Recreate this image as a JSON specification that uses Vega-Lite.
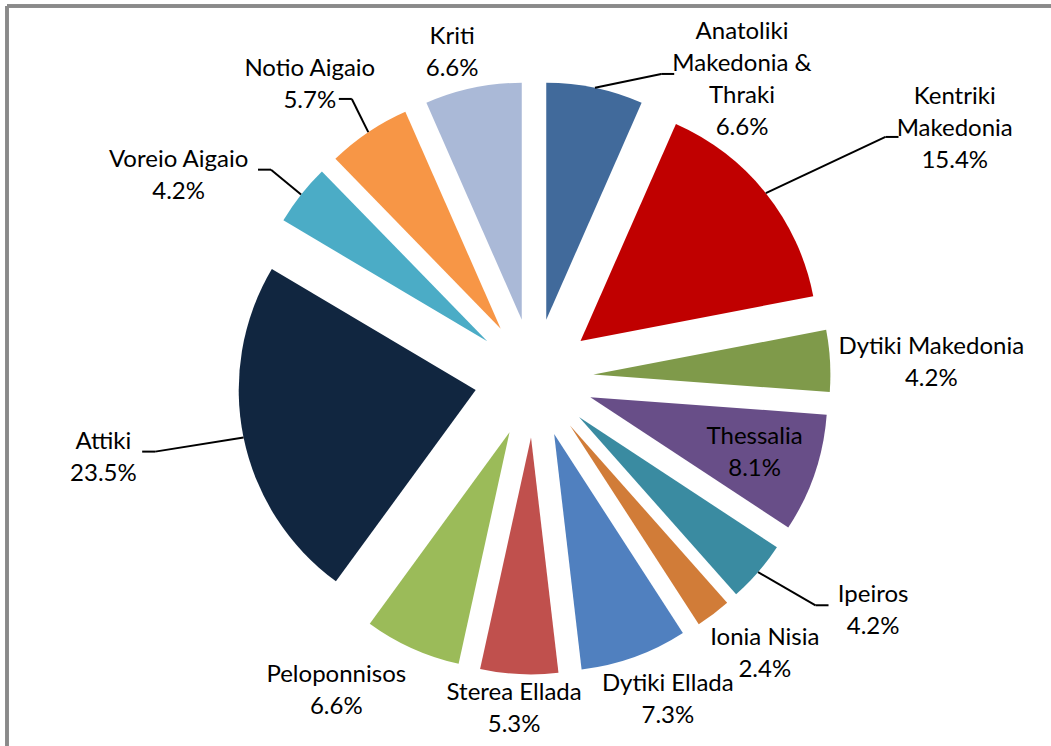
{
  "$schema": "https://vega.github.io/schema/vega-lite/v6.json",
  "width": 1044,
  "height": 740,
  "padding": {"left": 7, "top": 6, "right": 0, "bottom": 0},
  "autosize": {"type": "none"},
  "background": "white",
  "config": {"view": {"stroke": null}},
  "data": {
    "values": [
      {"region": "Anatoliki Makedonia & Thraki", "name": "Anatoliki\nMakedonia &\nThraki", "share": 6.6},
      {"region": "Kentriki Makedonia", "name": "Kentriki\nMakedonia", "share": 15.4},
      {"region": "Dytiki Makedonia", "name": "Dytiki Makedonia", "share": 4.2},
      {"region": "Thessalia", "name": "Thessalia", "share": 8.1},
      {"region": "Ipeiros", "name": "Ipeiros", "share": 4.2},
      {"region": "Ionia Nisia", "name": "Ionia Nisia", "share": 2.4},
      {"region": "Dytiki Ellada", "name": "Dytiki Ellada", "share": 7.3},
      {"region": "Sterea Ellada", "name": "Sterea Ellada", "share": 5.3},
      {"region": "Peloponnisos", "name": "Peloponnisos", "share": 6.6},
      {"region": "Attiki", "name": "Attiki", "share": 23.5},
      {"region": "Voreio Aigaio", "name": "Voreio Aigaio", "share": 4.2},
      {"region": "Notio Aigaio", "name": "Notio Aigaio", "share": 5.7},
      {"region": "Kriti", "name": "Kriti", "share": 6.6}
    ]
  },
  "transform": [
    {"stack": "share", "groupby": [], "offset": "normalize", "as": ["v0", "v1"]},
    {"calculate": "(datum.v0 + datum.v1) * PI", "as": "mid"},
    {"calculate": "sin(datum.mid)", "as": "ux"},
    {"calculate": "-cos(datum.mid)", "as": "uy"},
    {"calculate": "59.5 * datum.ux", "as": "ax"},
    {"calculate": "59.5 * datum.uy", "as": "ay"},
    {"calculate": "296.5 * datum.ux", "as": "sx"},
    {"calculate": "296.5 * datum.uy", "as": "sy"},
    {"calculate": "split(datum.name, '\\n')", "as": "parts"},
    {"calculate": "length(datum.parts) + 1", "as": "nl"},
    {"calculate": "max(length(datum.parts[0]), length(datum.parts[1] || ''), length(datum.parts[2] || ''))", "as": "maxc"},
    {"calculate": "datum.maxc * 5.8", "as": "hw"},
    {"calculate": "datum.nl * 16 - 6", "as": "hh"},
    {"calculate": "indexof(['Anatoliki Makedonia & Thraki','Kentriki Makedonia','Ipeiros','Attiki','Voreio Aigaio'], datum.region) >= 0", "as": "far"},
    {"calculate": "datum.region === 'Anatoliki Makedonia & Thraki' ? [110, 78] : datum.region === 'Kentriki Makedonia' ? [59, -15] : datum.region === 'Voreio Aigaio' ? [30, 18] : datum.region === 'Attiki' ? [-4, 8] : datum.region === 'Peloponnisos' ? [-38, 0] : datum.region === 'Kriti' ? [-12, 9] : datum.region === 'Notio Aigaio' ? [-7, -6] : datum.region === 'Dytiki Makedonia' ? [0, 5] : [0, 0]", "as": "nudge"},
    {"calculate": "datum.region === 'Thessalia' ? 233 * datum.ux : (datum.far ? 400 : 305) * datum.ux + datum.hw * clamp(1.2 * datum.ux, -1, 1) + datum.nudge[0]", "as": "lx"},
    {"calculate": "datum.region === 'Thessalia' ? 233 * datum.uy : min((datum.far ? 325 : 315) * datum.uy + datum.hh * clamp(1.2 * datum.uy, -1, 1) + datum.nudge[1], 357 - datum.hh)", "as": "ly"},
    {"calculate": "datum.ly - (datum.nl - 1) * 16", "as": "ty"},
    {"calculate": "datum.name + '\\n' + format(datum.share, '.1f') + '%'", "as": "label"},
    {"calculate": "datum.ux >= 0 ? 1 : -1", "as": "side"},
    {"calculate": "datum.region === 'Notio Aigaio' ? 29 : datum.hw + 4", "as": "gap"},
    {"calculate": "datum.lx - datum.side * datum.gap", "as": "hx"},
    {"calculate": "datum.hx - datum.side * 13", "as": "ex"},
    {"calculate": "datum.region === 'Notio Aigaio' ? datum.ly + 14 : datum.region === 'Kentriki Makedonia' ? datum.ly + 8 : datum.ly - 6", "as": "ey"}
  ],
  "layer": [
    {
      "mark": {"type": "arc", "radius": 237},
      "encoding": {
        "x": {"field": "ax", "type": "quantitative", "stack": null, "scale": {"domain": [-527, 517], "nice": false, "zero": false}, "axis": null},
        "y": {"field": "ay", "type": "quantitative", "stack": null, "scale": {"domain": [-372, 368], "nice": false, "zero": false, "reverse": true}, "axis": null},
        "theta": {"field": "v0", "type": "quantitative", "scale": {"domain": [0, 1], "range": [0, 6.283185307]}},
        "theta2": {"field": "v1"},
        "color": {
          "field": "region",
          "type": "nominal",
          "legend": null,
          "scale": {
            "domain": ["Anatoliki Makedonia & Thraki", "Kentriki Makedonia", "Dytiki Makedonia", "Thessalia", "Ipeiros", "Ionia Nisia", "Dytiki Ellada", "Sterea Ellada", "Peloponnisos", "Attiki", "Voreio Aigaio", "Notio Aigaio", "Kriti"],
            "range": ["#416A9B", "#C00000", "#7F9A4A", "#684E88", "#3A8BA1", "#D17C38", "#5080BF", "#C0504D", "#9BBB59", "#112640", "#4BACC6", "#F79646", "#AAB9D7"]
          }
        }
      }
    },
    {
      "transform": [{"filter": "indexof(['Anatoliki Makedonia & Thraki','Kentriki Makedonia','Ipeiros','Attiki','Voreio Aigaio','Notio Aigaio'], datum.region) >= 0"}],
      "mark": {"type": "rule", "color": "black", "strokeWidth": 2},
      "encoding": {
        "x": {"field": "sx", "type": "quantitative", "scale": {"domain": [-527, 517], "nice": false, "zero": false}, "axis": null},
        "y": {"field": "sy", "type": "quantitative", "scale": {"domain": [-372, 368], "nice": false, "zero": false, "reverse": true}, "axis": null},
        "x2": {"field": "ex"},
        "y2": {"field": "ey"}
      }
    },
    {
      "transform": [{"filter": "indexof(['Anatoliki Makedonia & Thraki','Kentriki Makedonia','Ipeiros','Attiki','Voreio Aigaio','Notio Aigaio'], datum.region) >= 0"}],
      "mark": {"type": "rule", "color": "black", "strokeWidth": 2},
      "encoding": {
        "x": {"field": "ex", "type": "quantitative", "scale": {"domain": [-527, 517], "nice": false, "zero": false}, "axis": null},
        "x2": {"field": "hx"},
        "y": {"field": "ey", "type": "quantitative", "scale": {"domain": [-372, 368], "nice": false, "zero": false, "reverse": true}, "axis": null}
      }
    },
    {
      "mark": {"type": "text", "font": "Lato", "fontSize": 24, "lineHeight": 32, "lineBreak": "\n", "align": "center", "baseline": "middle", "color": "black"},
      "encoding": {
        "x": {"field": "lx", "type": "quantitative", "scale": {"domain": [-527, 517], "nice": false, "zero": false}, "axis": null},
        "y": {"field": "ty", "type": "quantitative", "scale": {"domain": [-372, 368], "nice": false, "zero": false, "reverse": true}, "axis": null},
        "text": {"field": "label", "type": "nominal"}
      }
    },
    {
      "mark": {"type": "rule", "color": "#8A8A8A", "strokeWidth": 2.5},
      "encoding": {
        "x": {"datum": -527, "type": "quantitative", "scale": {"domain": [-527, 517], "nice": false, "zero": false}, "axis": null}
      }
    },
    {
      "mark": {"type": "rule", "color": "#8A8A8A", "strokeWidth": 2.5},
      "encoding": {
        "y": {"datum": -372, "type": "quantitative", "scale": {"domain": [-372, 368], "nice": false, "zero": false, "reverse": true}, "axis": null}
      }
    }
  ]
}
